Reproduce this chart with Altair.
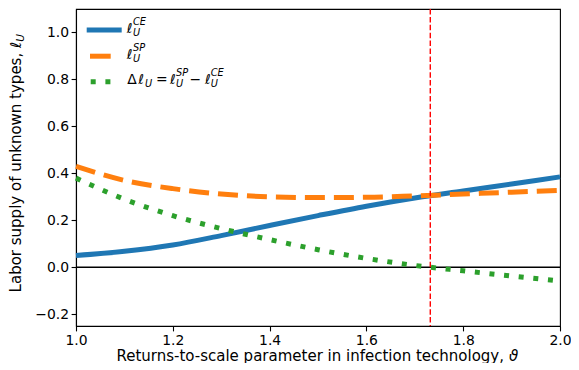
import altair as alt
import pandas as pd

# ---- data ----
theta = [1.0, 1.1, 1.2, 1.3, 1.4, 1.5, 1.6, 1.7, 1.8, 1.9, 2.0]
l_ce = [0.050, 0.068, 0.095, 0.135, 0.178, 0.220, 0.260, 0.295, 0.325, 0.355, 0.385]
l_sp = [0.430, 0.370, 0.335, 0.312, 0.300, 0.297, 0.298, 0.304, 0.312, 0.320, 0.327]
delta = [0.380, 0.290, 0.220, 0.165, 0.118, 0.075, 0.038, 0.008, -0.015, -0.037, -0.058]
threshold = [1.732]
zero = [0.0]
x_ticks = [1.0, 1.2, 1.4, 1.6, 1.8, 2.0]
y_ticks = [-0.2, 0.0, 0.2, 0.4, 0.6, 0.8, 1.0]

BLUE, ORANGE, GREEN = "#1f77b4", "#ff7f0e", "#2ca02c"
FONT = "DejaVu Sans"
TICK_FS = 13.9
TITLE_FS = 15.0
LEG_FS = 13.9
SCRIPT_FS = 9.8

df = pd.DataFrame({"theta": theta, "ce": l_ce, "sp": l_sp, "delta": delta})

xs = alt.Scale(domain=[1.0, 2.0], nice=False, zero=False)
ys = alt.Scale(domain=[-0.25, 1.1], nice=False, zero=False)
x_axis = alt.Axis(values=x_ticks, format=".1f", title=None, labelFlush=False)
y_axis = alt.Axis(values=y_ticks, format=".1f", title=None, labelFlush=False)


def X(field):
    return alt.X(field, type="quantitative", scale=xs, axis=x_axis)


def Y(field):
    return alt.Y(field, type="quantitative", scale=ys, axis=y_axis)


base = alt.Chart(df)
zero_rule = alt.Chart(pd.DataFrame({"z": zero})).mark_rule(
    color="black", strokeWidth=1.5).encode(y=Y("z"))
ce_line = base.mark_line(color=BLUE, strokeWidth=5, interpolate="monotone",
                         strokeCap="butt").encode(x=X("theta"), y=Y("ce"))
sp_line = base.mark_line(color=ORANGE, strokeWidth=5, interpolate="monotone",
                         strokeCap="butt", strokeDash=[20, 9]).encode(x=X("theta"), y=Y("sp"))
d_line = base.mark_line(color=GREEN, strokeWidth=5, interpolate="monotone",
                        strokeCap="butt", strokeDash=[5, 9.7]).encode(x=X("theta"), y=Y("delta"))
vline = alt.Chart(pd.DataFrame({"t": threshold})).mark_rule(
    color="red", strokeWidth=1.4, strokeDash=[5.5, 2.4]).encode(x=X("t"))

one = alt.Data(values=[{}])


def txt(s, x, y, size=LEG_FS, italic=False, align="left", angle=0):
    kw = dict(font=FONT, fontSize=size, align=align, baseline="alphabetic",
              color="black", angle=angle)
    if italic:
        kw["fontStyle"] = "italic"
    return alt.Chart(one).mark_text(**kw).encode(
        x=alt.value(x), y=alt.value(y), text=alt.value(s))


def handle(x1, x2, y, color, dash=None):
    kw = dict(color=color, strokeWidth=5, strokeCap="butt")
    if dash:
        kw["strokeDash"] = dash
    return alt.Chart(one).mark_rule(**kw).encode(
        x=alt.value(x1), x2=alt.value(x2), y=alt.value(y))


layers = [zero_rule, ce_line, sp_line, d_line, vline]

# legend handles
layers += [
    handle(10.7, 45.7, 21, BLUE),
    handle(14.0, 34.7, 47.2, ORANGE),
    handle(14.7, 34.7, 72.7, GREEN, dash=[5, 9.7]),
]

# legend texts
for base_y, sup in [(24, "CE"), (49.65, "SP")]:
    layers += [
        txt("\u2113", 50.7, base_y, italic=True),
        txt(sup, 57, base_y - 8, size=SCRIPT_FS, italic=True),
        txt("U", 57, base_y + 3, size=SCRIPT_FS, italic=True),
    ]
b3 = 75.3
layers += [
    txt("\u0394", 51.3, b3),
    txt("\u2113", 62.3, b3, italic=True),
    txt("U", 69, b3 + 3, size=SCRIPT_FS, italic=True),
    txt("=", 85.7, b3, align="center"),
    txt("\u2113", 94, b3, italic=True),
    txt("SP", 100, b3 - 8, size=SCRIPT_FS, italic=True),
    txt("U", 100, b3 + 3, size=SCRIPT_FS, italic=True),
    txt("\u2212", 119.3, b3, align="center"),
    txt("\u2113", 129, b3, italic=True),
    txt("CE", 134.7, b3 - 8, size=SCRIPT_FS, italic=True),
    txt("U", 134.7, b3 + 3, size=SCRIPT_FS, italic=True),
]

# axis titles
layers += [
    txt("Returns-to-scale parameter in infection technology,", 428, 351.5,
        size=TITLE_FS, align="right"),
    txt("\u03d1", 433, 351.5, size=TITLE_FS, italic=True),
    txt("Labor supply of unknown types,", -55, 43.8, size=TITLE_FS,
        align="right", angle=270),
    txt("\u2113", -55, 39, size=TITLE_FS, italic=True, angle=270),
    txt("U", -52, 32.7, size=10.5, italic=True, angle=270),
]

chart = alt.layer(*layers).properties(
    width=484, height=317,
    autosize=alt.AutoSizeParams(type="none"),
    padding={"left": 68, "top": 1, "right": 11, "bottom": 37},
).configure(font=FONT).configure_view(
    stroke="black", strokeWidth=1.1
).configure_axis(
    grid=False, domainColor="black", domainWidth=1.1,
    tickColor="black", tickWidth=1.1, tickSize=4.9,
    labelFont=FONT, labelFontSize=TICK_FS, labelColor="black",
    labelPadding=2.5, labelFlush=False,
)

chart.save("out.html", embed_options={"renderer": "svg", "actions": False})
